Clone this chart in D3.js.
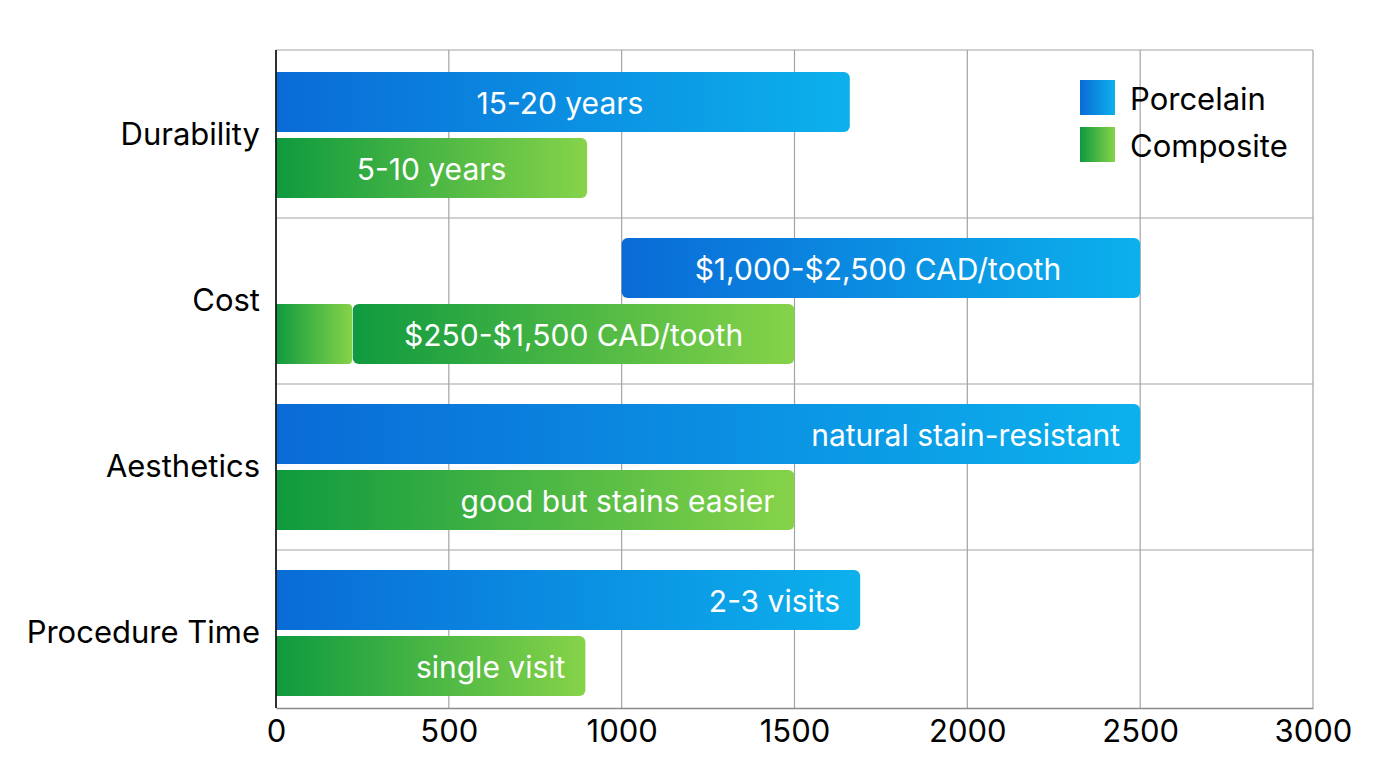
<!DOCTYPE html>
<html>
<head>
<meta charset="utf-8">
<script src="https://cdn.jsdelivr.net/npm/d3@7"></script>
<style>
  html, body { margin: 0; padding: 0; background: #fff; }
  svg { display: block; font-family: Inter, "Noto Sans", sans-serif; }
</style>
</head>
<body>
<svg id="chart" width="1376" height="768"></svg>
<script>
// ---- data ----
const categories = ["Durability", "Cost", "Aesthetics", "Procedure Time"];
const seriesNames = ["Porcelain", "Composite"];
const porcelainStart = [0, 1000, 0, 0];
const porcelainEnd = [1660, 2500, 2500, 1690];
const porcelainLabels = ["15-20 years", "$1,000-$2,500 CAD/tooth", "natural stain-resistant", "2-3 visits"];
const compositeBaseEnd = [0, 220, 0, 0];
const compositeStart = [0, 222, 0, 0];
const compositeEnd = [900, 1500, 1500, 895];
const compositeLabels = ["5-10 years", "$250-$1,500 CAD/tooth", "good but stains easier", "single visit"];
const xTicks = [0, 500, 1000, 1500, 2000, 2500, 3000];

// ---- layout ----
const plotLeft = 276, plotRight = 1313, plotTop = 50, plotBottom = 708;
const svg = d3.select("#chart");

const x = d3.scaleLinear().domain([0, 3000]).range([plotLeft, plotRight]);
const y = d3.scaleBand().domain(categories).range([52, 716]).paddingInner(0).paddingOuter(0);

const defs = svg.append("defs");
function grad(id, c0, c1) {
  const g = defs.append("linearGradient").attr("id", id)
    .attr("x1", "0%").attr("y1", "0%").attr("x2", "100%").attr("y2", "0%");
  g.append("stop").attr("offset", "0%").attr("stop-color", c0);
  g.append("stop").attr("offset", "100%").attr("stop-color", c1);
}
grad("gP", "#0a6bd7", "#0cb1ec");
grad("gC", "#0f9a3f", "#86d349");

// grid
const grid = svg.append("g");
grid.selectAll("line.v").data(xTicks.slice(1)).join("line")
  .attr("x1", d => x(d)).attr("x2", d => x(d))
  .attr("y1", plotTop).attr("y2", plotBottom)
  .attr("stroke", "#a3a3a3").attr("stroke-width", 1.2);
grid.selectAll("line.h").data(categories.slice(1)).join("line")
  .attr("x1", plotLeft).attr("x2", plotRight)
  .attr("y1", d => y(d)).attr("y2", d => y(d))
  .attr("stroke", "#a3a3a3").attr("stroke-width", 1.2);
grid.append("line").attr("x1", plotLeft).attr("x2", plotRight).attr("y1", plotTop).attr("y2", plotTop)
  .attr("stroke", "#a3a3a3").attr("stroke-width", 1.2);

function roundedPath(x0, y0, w, h, rl, rr) {
  return `M${x0 + rl},${y0}H${x0 + w - rr}` +
    (rr ? `A${rr},${rr} 0 0 1 ${x0 + w},${y0 + rr}` : "") +
    `V${y0 + h - rr}` +
    (rr ? `A${rr},${rr} 0 0 1 ${x0 + w - rr},${y0 + h}` : "") +
    `H${x0 + rl}` +
    (rl ? `A${rl},${rl} 0 0 1 ${x0},${y0 + h - rl}` : "") +
    `V${y0 + rl}` +
    (rl ? `A${rl},${rl} 0 0 1 ${x0 + rl},${y0}` : "") + "Z";
}

const barH = 60, gap = 3, r = 6;
const bars = svg.append("g");
const labels = svg.append("g");
const labelSize = 30;

categories.forEach((c, i) => {
  const cy = y(c) + y.bandwidth() / 2;
  // porcelain
  const px0 = x(porcelainStart[i]), px1 = x(porcelainEnd[i]);
  const py = cy - gap - barH;
  bars.append("path").attr("d", roundedPath(px0, py, px1 - px0, barH, porcelainStart[i] === 0 ? 0 : r, r))
    .attr("fill", "url(#gP)");
  // composite base segment
  const cyy = cy + gap;
  if (compositeBaseEnd[i] > 0) {
    const bx1 = x(compositeBaseEnd[i]);
    bars.append("path").attr("d", roundedPath(x(0), cyy, bx1 - x(0), barH, 0, 4))
      .attr("fill", "url(#gC)");
  }
  const cx0 = x(compositeStart[i]), cx1 = x(compositeEnd[i]);
  bars.append("path").attr("d", roundedPath(cx0, cyy, cx1 - cx0, barH, compositeStart[i] === 0 ? 0 : r, r))
    .attr("fill", "url(#gC)");

  const centered = i < 2;
  labels.append("text")
    .attr("x", centered ? (px0 + px1) / 2 - 3 : px1 - 20)
    .attr("y", py + barH / 2 + 1)
    .attr("text-anchor", centered ? "middle" : "end")
    .attr("dominant-baseline", "central")
    .attr("fill", "#ffffff").attr("font-size", labelSize)
    .text(porcelainLabels[i]);
  labels.append("text")
    .attr("x", centered ? (cx0 + cx1) / 2 : cx1 - 20)
    .attr("y", cyy + barH / 2 + 1)
    .attr("text-anchor", centered ? "middle" : "end")
    .attr("dominant-baseline", "central")
    .attr("fill", "#ffffff").attr("font-size", labelSize)
    .text(compositeLabels[i]);
});

// axes
const xAxis = svg.append("g").attr("transform", `translate(0,${plotBottom})`)
  .call(d3.axisBottom(x).tickValues(xTicks).tickSize(0).tickPadding(12).tickFormat(d3.format("d")));
xAxis.select(".domain").attr("stroke", "#8a8a8a").attr("stroke-width", 1.5);
xAxis.selectAll("text").attr("font-size", 31).attr("fill", "#000").attr("font-family", "Inter, sans-serif");

const yAxis = svg.append("g").attr("transform", `translate(${plotLeft},0)`)
  .call(d3.axisLeft(y).tickSize(0).tickPadding(16));
yAxis.select(".domain").remove();
yAxis.selectAll("text").attr("font-size", 31).attr("fill", "#000").attr("font-family", "Inter, sans-serif");
svg.append("line").attr("x1", plotLeft).attr("x2", plotLeft).attr("y1", plotTop).attr("y2", plotBottom)
  .attr("stroke", "#1a1a1a").attr("stroke-width", 1.8);

// legend
const legend = svg.append("g").attr("transform", "translate(1080,80)");
seriesNames.forEach((s, i) => {
  const g = legend.append("g").attr("transform", `translate(0,${i * 47})`);
  g.append("rect").attr("width", 35).attr("height", 35).attr("fill", i === 0 ? "url(#gP)" : "url(#gC)");
  g.append("text").attr("x", 50).attr("y", 18).attr("dominant-baseline", "central")
    .attr("font-size", 31).attr("fill", "#000").text(s);
});
</script>
</body>
</html>
